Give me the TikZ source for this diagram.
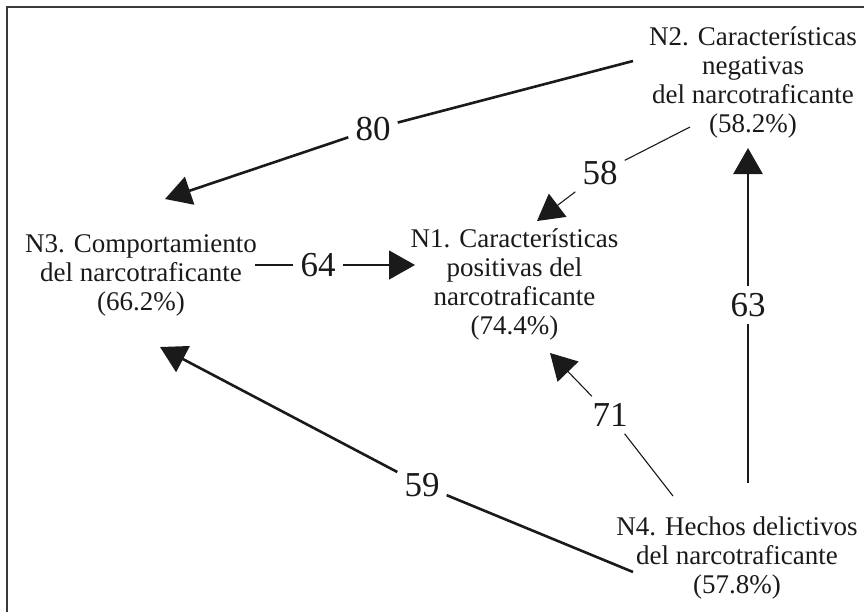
\documentclass[tikz,border=0pt]{standalone}
\usepackage{fontspec}
\setmainfont{Liberation Serif}
\usetikzlibrary{arrows.meta}
\definecolor{framegray}{HTML}{3A3A3A}
\definecolor{inkblack}{HTML}{1A1A1A}

\begin{document}
\begin{tikzpicture}[x=1pt, y=-1pt,
  concept/.style={align=center, inner sep=0pt, anchor=north, text=inkblack,
    font=\fontsize{27}{29}\selectfont},
  weight/.style={inner sep=7pt, text=inkblack, font=\fontsize{35}{35}\selectfont},
  strong/.style={draw=inkblack, line width=2.6pt, -{Triangle[length=26pt, width=29pt]}},
  weak/.style={draw=inkblack, line width=1.1pt, -{Triangle[length=26pt, width=29pt]}}]
  \useasboundingbox (0,0) rectangle (864,611);
  \draw[framegray, line width=1.8pt] (7,650) |- (900,7);
  % dimensions
  \node[concept] (n2) at (753,26.5) {N2. Características\\negativas\\del narcotraficante\\(58.2\%)};
  \node[concept] (n3) at (141,234.5) {N3. Comportamiento\\del narcotraficante\\(66.2\%)};
  \node[concept] (n1) at (514.5,228.5) {N1. Características\\positivas del\\narcotraficante\\(74.4\%)};
  \node[concept] (n4) at (737,516.5) {N4. Hechos delictivos\\del narcotraficante\\(57.8\%)};
  % line ends
  \coordinate (n2-out80) at (633,61);
  \coordinate (n3-in80) at (165,199);
  \coordinate (n2-out58) at (690,127);
  \coordinate (n1-in58) at (537,221);
  \coordinate (n3-out64) at (255,265);
  \coordinate (n1-in64) at (415,265);
  \coordinate (n4-out63) at (748,483);
  \coordinate (n2-in63) at (748,148);
  \coordinate (n4-out71) at (673,496);
  \coordinate (n1-in71) at (550,353);
  \coordinate (n4-out59) at (633,572);
  \coordinate (n3-in59) at (160,347);
  % weights
  \node[weight] (w80) at (373,129) {80};
  \node[weight] (w58) at (600,173) {58};
  \node[weight] (w64) at (318,265) {64};
  \node[weight] (w63) at (748,305) {63};
  \node[weight] (w71) at (610,415) {71};
  \node[weight] (w59) at (422,485) {59};
  % edges
  \draw[strong] (n2-out80) -- (w80) -- (n3-in80);
  \draw[weak] (n2-out58) -- (w58) -- (n1-in58);
  \draw[weak] (n3-out64) -- (w64) -- (n1-in64);
  \draw[strong] (n4-out63) -- (w63) -- (n2-in63);
  \draw[weak] (n4-out71) -- (w71) -- (n1-in71);
  \draw[strong] (n4-out59) -- (w59) -- (n3-in59);
\end{tikzpicture}
\end{document}
